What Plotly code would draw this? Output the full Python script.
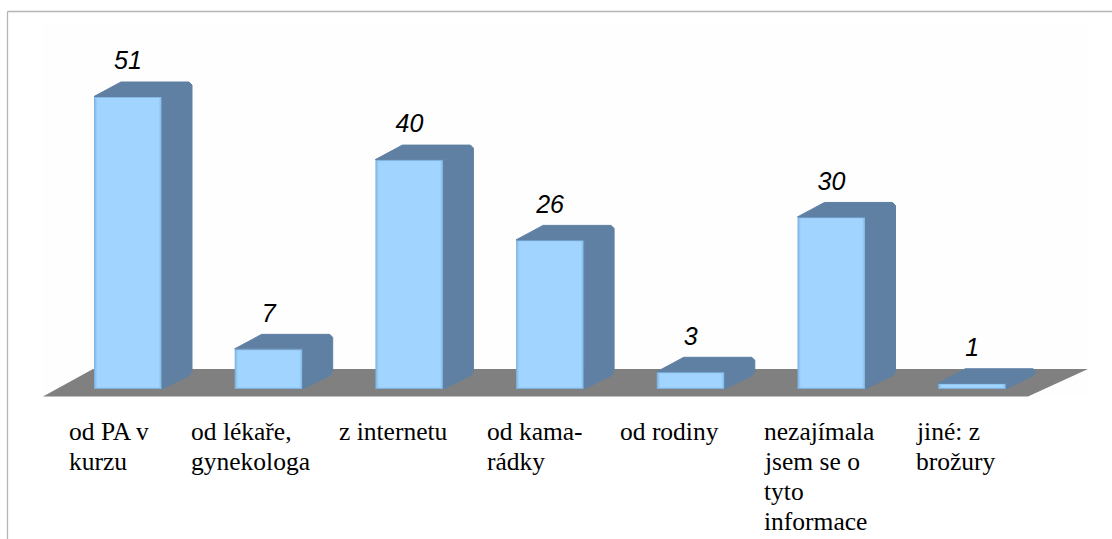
import plotly.graph_objects as go

categories = ["od PA v kurzu", "od lékaře, gynekologa", "z internetu", "od kamarádky",
              "od rodiny", "nezajímala jsem se o tyto informace", "jiné: z brožury"]
values = [51, 7, 40, 26, 3, 30, 1]
label_lines = [["od PA v", "kurzu"], ["od lékaře,", "gynekologa"], ["z internetu"],
               ["od kama-", "rádky"], ["od rodiny"],
               ["nezajímala", "jsem se o", "tyto", "informace"], ["jiné: z", "brožury"]]

W, H = 1112, 539
PX_X = 140.7           # pixels per category
PX_Y = 5.735           # pixels per value unit
X0, Y0 = 128.0, 389.0  # pixel position of first category / zero line
label_left = [68, 190, 338, 486, 619, 763, 915]

px = lambda p: (p - X0) / PX_X       # pixel -> x data
py = lambda p: (Y0 - p) / PX_Y       # pixel -> y data
half = 34 / PX_X
dx, dy = 30 / PX_X, 14.5 / PX_Y
cx, cy = 3 / PX_X, 3 / PX_Y
idx = list(range(len(values)))

fig = go.Figure()

# Top + side of every bar
for i, v in zip(idx, values):
    l, r = i - half, i + half
    xs = [l, l + dx - cx, r + dx - cx, r + dx, r + dx, r + dx - cx, r, r, l, None]
    ys = [v, v + dy, v + dy, v + dy - cy, dy + cy, dy - cy * 0.4, 0, v, v, None]
    fig.add_trace(go.Scatter(x=xs, y=ys, mode="lines", fill="toself", fillcolor="#5f80a3",
                             line=dict(color="#5f80a3", width=1), hoverinfo="skip", showlegend=False))

# Front faces: nested bars imitate the soft bevel
for inset, color in [(0, "#7fb3e0"), (1, "#8cc2ef"), (2, "#97ccf8"), (3, "#a1d4ff")]:
    iy = min(inset, 1.6)
    fig.add_trace(go.Bar(
        x=idx,
        y=[v - 2 * iy / PX_Y for v in values],
        base=[iy / PX_Y] * len(values),
        width=2 * (half - inset / PX_X),
        marker=dict(color=color, line=dict(width=0)),
        hoverinfo="skip", showlegend=False))

# Value labels
fig.add_trace(go.Scatter(
    x=idx, y=[v + 33.5 / PX_Y for v in values], mode="text",
    text=[str(v) for v in values], textposition="middle center",
    textfont=dict(family="Liberation Sans", size=25, color="#000000", style="italic"),
    hoverinfo="skip", showlegend=False))

# Floor
floor_path = "M {} {} L {} {} L {} {} L {} {} Z".format(
    px(43), py(396.5), px(93), py(369), px(1088), py(369), px(1028), py(396.5))

shapes = [
    dict(type="rect", xref="x", yref="y", x0=px(43), x1=px(1088), y0=py(22), y1=py(396),
         fillcolor="#fefefe", line_width=0, layer="below"),
    dict(type="path", xref="x", yref="y", path=floor_path, fillcolor="#808080", line_width=0, layer="below"),
    dict(type="line", xref="paper", yref="paper", x0=7.5 / W, x1=1, y0=1 - 11.5 / H, y1=1 - 11.5 / H,
         line=dict(color="#b4b4b4", width=1.3)),
    dict(type="line", xref="paper", yref="paper", x0=7.5 / W, x1=7.5 / W, y0=0, y1=1 - 11.5 / H,
         line=dict(color="#b4b4b4", width=1.3)),
]

annotations = []
for left, lines in zip(label_left, label_lines):
    for n, line in enumerate(lines):
        annotations.append(dict(
            xref="paper", yref="paper", x=left / W, y=1 - (431 + 30 * n) / H,
            xanchor="left", yanchor="middle", showarrow=False, text=line, align="left",
            borderpad=0, font=dict(family="Liberation Serif", size=25.5, color="#000000")))

fig.update_layout(
    width=W, height=H, margin=dict(l=0, r=0, t=0, b=0),
    paper_bgcolor="#ffffff", plot_bgcolor="#ffffff", barmode="overlay", showlegend=False,
    xaxis=dict(range=[px(0), px(W)], visible=False, fixedrange=True),
    yaxis=dict(range=[py(H), py(0)], visible=False, fixedrange=True),
    shapes=shapes, annotations=annotations,
)

fig.write_html("out.html", config={"displayModeBar": False},
               post_script="document.body.style.margin='0';document.body.style.overflow='hidden';")
